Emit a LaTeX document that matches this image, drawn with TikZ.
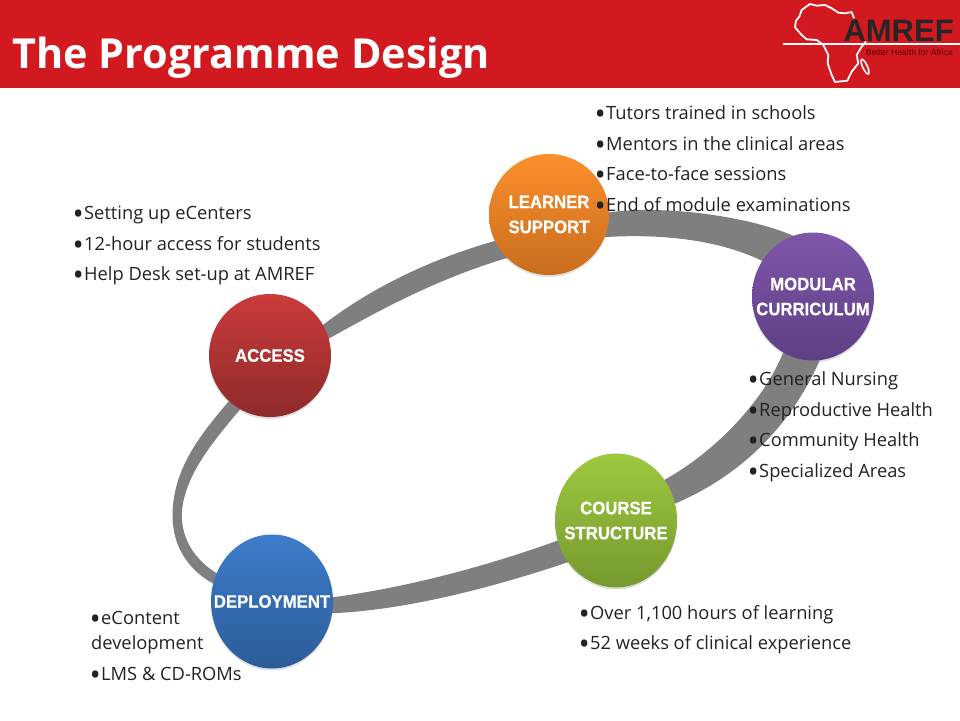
\documentclass[tikz,border=0pt]{standalone}
\usepackage{fontspec}
\usepackage{xcolor}
\setmainfont{Open Sans}
\newfontfamily\circlefont[FakeStretch=0.93,FakeBold=0.6]{Liberation Sans}
\newfontfamily\logofont{Liberation Sans}
\usetikzlibrary{
	backgrounds,
	shadows,
	shapes.geometric,
}
\definecolor{amrefred}{HTML}{D2191F}
\definecolor{ringgrey}{HTML}{7F7F7F}
\definecolor{bodyink}{HTML}{222222}
\definecolor{accesstop}{HTML}{CB3B3B}
\definecolor{accessbot}{HTML}{8E2A2A}
\definecolor{learnertop}{HTML}{FC8F2C}
\definecolor{learnerbot}{HTML}{C86D1E}
\definecolor{modulartop}{HTML}{7E56AA}
\definecolor{modularbot}{HTML}{5E3F84}
\definecolor{coursetop}{HTML}{9DC93F}
\definecolor{coursebot}{HTML}{76992F}
\definecolor{deploytop}{HTML}{3D7DCC}
\definecolor{deploybot}{HTML}{2C5B98}
\newcommand{\bulletmark}{\makebox[10pt][l]{\fontsize{30}{20}\selectfont\raisebox{-5pt}{\hspace{-1.5pt}•}}}
\tikzset{
	stagecircle/.style n args={4}{ellipse, inner sep=-24pt, minimum width=#1, minimum height=#2,
		top color=#3, bottom color=#4, text=white, align=center,
		font=\circlefont\bfseries\fontsize{18}{25}\selectfont,
		drop shadow={shadow xshift=0pt, shadow yshift=-2pt, opacity=0.25}},
	ringband/.style={fill=ringgrey, draw=none},
	bulletline/.style={anchor=base west, inner sep=0pt, text=bodyink,
		font=\fontsize{18.3}{20}\selectfont},
}
\begin{document}
\begin{tikzpicture}[x=1pt, y=-1pt]
	\useasboundingbox (0,0) rectangle (960,720);
	\fill[amrefred] (0,0) rectangle (960,88);
	\node[anchor=base west, inner sep=0pt, text=white] (title) at (12,68)
		{\fontsize{41.4}{45}\selectfont\bfseries The Programme Design};

	% logo
	\begin{scope}[shift={(760,0)}, x=0.3333pt, y=-0.3333pt]
		\draw[white, line width=1.8pt, line join=round]
			(282,55) -- (275,36) -- (255,40) -- (235,38) -- (215,25) -- (195,15) -- (170,17) -- (150,12)
			-- (125,30) -- (118,50) -- (108,62) -- (105,82) -- (125,105) -- (140,118) -- (170,120)
			-- (190,135) -- (205,165) -- (203,190) -- (215,225) -- (225,246) -- (262,242)
			-- (275,215) -- (295,190) -- (290,165) -- (305,140) -- (318,125);
		\draw[white, line width=1.6pt, rotate around={25:(315,200)}] (315,200) ellipse (7 and 24);
		\draw[white, line width=1.3pt] (68,132) -- (600,132);
		\node[anchor=base west, inner sep=0pt, text=black!85] (logoname) at (250,124)
			{\logofont\bfseries\fontsize{31}{31}\selectfont AMREF};
		\node[anchor=base west, inner sep=0pt, text=black!65!red] (logotag) at (317,167)
			{\logofont\fontsize{8.6}{10}\selectfont Better Health for Africa};
	\end{scope}

	% the five stages
	\node[stagecircle={122pt}{123pt}{accesstop}{accessbot}] (access) at (270,355.5) {ACCESS};
	\node[stagecircle={120pt}{121pt}{learnertop}{learnerbot}] (learner) at (549,214.5) {LEARNER\\SUPPORT};
	\node[stagecircle={122pt}{128pt}{modulartop}{modularbot}] (modular) at (813,296.5) {MODULAR\\CURRICULUM};
	\node[stagecircle={122pt}{134pt}{coursetop}{coursebot}] (course) at (616,520.5) {COURSE\\STRUCTURE};
	\node[stagecircle={122pt}{134pt}{deploytop}{deploybot}] (deployment) at (272,601.5) {DEPLOYMENT};

	% ring behind the stages
	\begin{pgfonlayer}{background}
		\fill[ringband] (access.30) .. controls (375,285) and (435,258) .. (learner.206)
			-- (learner.center) -- (learner.226)
			.. controls (440,278) and (385,307) .. (access.16) -- (access.center) -- cycle;
		\fill[ringband] (learner.2) .. controls (660,205) and (745,215) .. (modular.108)
			-- (modular.center) -- (modular.145)
			.. controls (715,238) and (655,234) .. (learner.-22) -- (learner.center) -- cycle;
		\fill[ringband] (modular.276) .. controls (788,432) and (735,478) .. (course.16)
			-- (course.center) -- (course.40)
			.. controls (710,455) and (762,405) .. (modular.242) -- (modular.center) -- cycle;
		\fill[ringband] (course.199) .. controls (490,565) and (410,587) .. (deployment.4)
			-- (deployment.center) -- (deployment.-11)
			.. controls (410,610) and (500,585) .. (course.221) -- (course.center) -- cycle;
		\fill[ringband] (deployment.163) .. controls (180,565) and (170,535) .. (173,505)
			.. controls (177,465) and (200,435) .. (access.228)
			-- (access.center) -- (access.241)
			.. controls (210,445) and (186,475) .. (182,510)
			.. controls (180,535) and (192,558) .. (deployment.153) -- (deployment.center) -- cycle;
	\end{pgfonlayer}

	% lists
	\node[bulletline] (tutors) at (596,119) {\bulletmark Tutors trained in schools};
	\node[bulletline] (mentors) at (596,150) {\bulletmark Mentors in the clinical areas};
	\node[bulletline] (sessions) at (596,180) {\bulletmark Face-to-face sessions};
	\node[bulletline] (exams) at (596,211) {\bulletmark End of module examinations};

	\node[bulletline] (centers) at (74,219) {\bulletmark Setting up eCenters};
	\node[bulletline] (hours) at (74,250) {\bulletmark 12-hour access for students};
	\node[bulletline] (desk) at (74,280) {\bulletmark Help Desk set-up at AMREF};

	\node[bulletline] (nursing) at (749,385) {\bulletmark General Nursing};
	\node[bulletline] (repro) at (749,416) {\bulletmark Reproductive Health};
	\node[bulletline] (community) at (749,446) {\bulletmark Community Health};
	\node[bulletline] (special) at (749,477) {\bulletmark Specialized Areas};

	\node[bulletline] (learning) at (580,619) {\bulletmark Over 1,100 hours of learning};
	\node[bulletline] (weeks) at (580,649) {\bulletmark 52 weeks of clinical experience};

	\node[bulletline] (econtent) at (91,624) {\bulletmark eContent};
	\node[bulletline] (develop) at (91,649) {development};
	\node[bulletline] (lms) at (91,680) {\bulletmark LMS \& CD-ROMs};
\end{tikzpicture}
\end{document}
